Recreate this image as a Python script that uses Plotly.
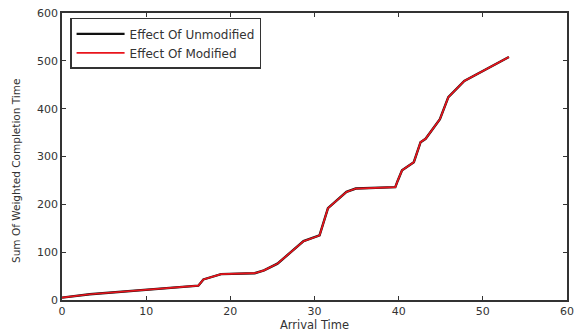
import plotly.graph_objects as go

arrival = [0, 3.3, 16.2, 16.8, 18.9, 22.9, 24.0, 25.6, 28.7, 30.6, 31.6, 33.8, 34.9, 39.6, 39.9, 40.4, 41.8, 42.6, 43.2, 44.9, 45.9, 47.8, 53.1]
modified = [5, 12, 30, 43, 54, 56, 62, 76, 123, 135, 192, 226, 233, 236, 250, 271, 288, 330, 337, 378, 424, 458, 508]
unmodified = [5, 12, 30, 43, 54, 56, 62, 76, 123, 135, 192, 226, 233, 236, 250, 271, 288, 330, 337, 378, 424, 458, 508]

x_ticks = [0, 10, 20, 30, 40, 50, 60]
y_ticks = [0, 100, 200, 300, 400, 500, 600]

FONT = "DejaVu Sans"

fig = go.Figure()
fig.add_trace(go.Scatter(x=arrival, y=unmodified, mode="lines", name="Effect Of Unmodified",
                         line=dict(color="#111", width=2.4)))
fig.add_trace(go.Scatter(x=arrival, y=modified, mode="lines", name="Effect Of Modified",
                         line=dict(color="#e8141c", width=1.7)))

axis_common = dict(showline=True, linecolor="#333", linewidth=1.8, mirror="allticks",
                   ticks="inside", ticklen=4, tickcolor="#333", showgrid=False, zeroline=False,
                   tickfont=dict(family=FONT, size=11, color="#333"))

fig.update_layout(
    width=581, height=335,
    margin=dict(l=62, r=7, t=12, b=35),
    paper_bgcolor="white", plot_bgcolor="white",
    xaxis=dict(range=[0, 60], tickvals=x_ticks,
               title=dict(text="Arrival Time", standoff=0,
                          font=dict(family=FONT, size=11.5, color="#333")),
               **axis_common),
    yaxis=dict(range=[0, 600], tickvals=y_ticks, **axis_common),
    legend=dict(x=0.016, y=0.983, xanchor="left", yanchor="top",
                bgcolor="white", bordercolor="#333", borderwidth=1.5,
                font=dict(family=FONT, size=12, color="#333"),
                itemwidth=48, tracegroupgap=0),
    annotations=[dict(text="Sum Of Weighted Completion Time", textangle=-90,
                      xref="paper", yref="paper", x=-0.09, y=0.448,
                      xanchor="center", yanchor="middle", showarrow=False,
                      font=dict(family=FONT, size=10.5, color="#333"))],
    showlegend=True,
)

fig.write_html("out.html", config={"displayModeBar": False},
               post_script="document.body.style.margin='0';")
